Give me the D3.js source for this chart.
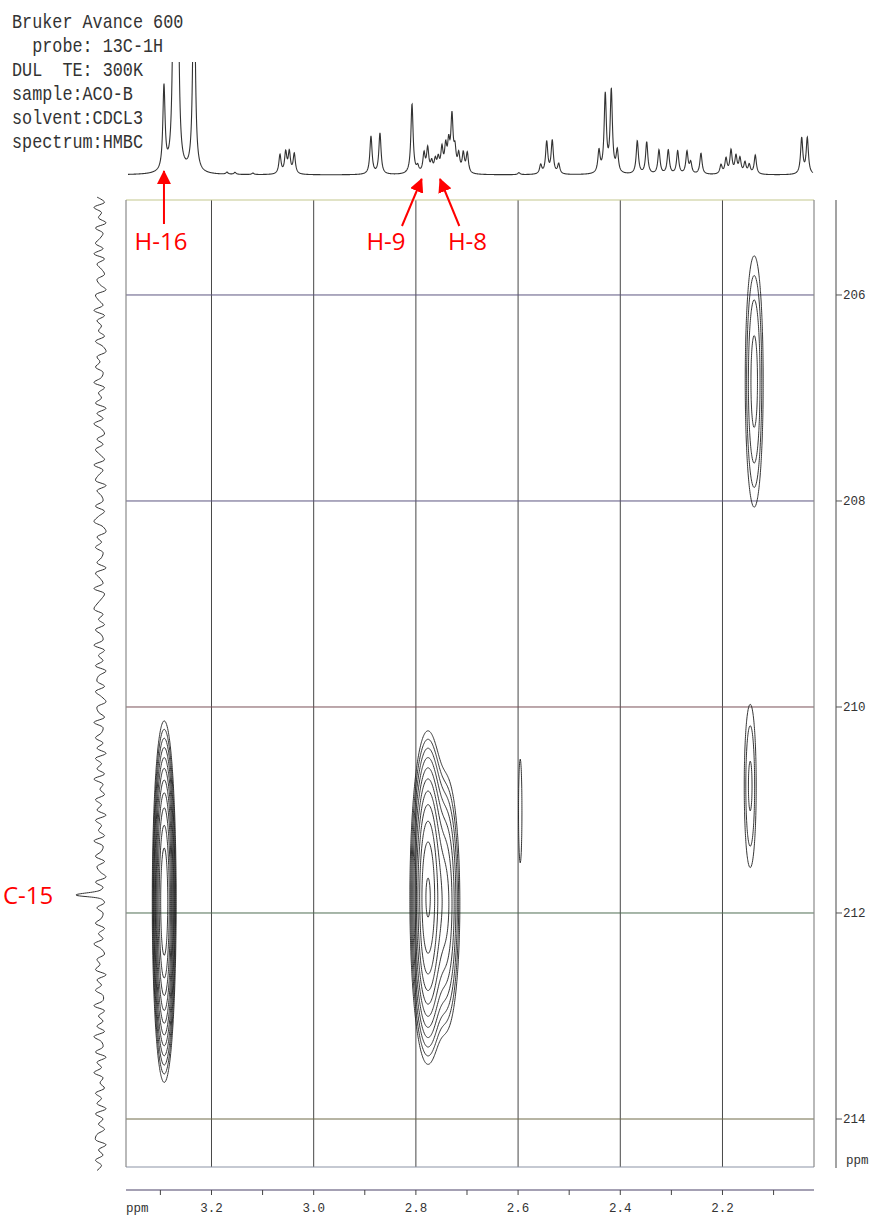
<!DOCTYPE html>
<html><head><meta charset="utf-8">
<script src="https://cdn.jsdelivr.net/npm/d3@7"></script>
<style>body{margin:0;background:#fff}svg{display:block}</style>
</head><body><svg id="c" width="877" height="1218"></svg>
<script>
// ---------------- DATA ----------------
const headerLines = ["Bruker Avance 600", "  probe: 13C-1H", "DUL  TE: 300K", "sample:ACO-B", "solvent:CDCL3", "spectrum:HMBC"];
const xMajorTicks = [3.2, 3.0, 2.8, 2.6, 2.4, 2.2];
const xMinorTicks = [3.3, 3.2, 3.1, 3.0, 2.9, 2.8, 2.7, 2.6, 2.5, 2.4, 2.3, 2.2, 2.1];
const yTicks = [206, 208, 210, 212, 214];
const axisUnit = "ppm";
// 1H projection: [ppm, height]
const protonPeaks = [
  [3.293, 84], [3.2734, 260], [3.2665, 260], [3.2342, 240], [3.1697, 2], [3.154, 2], [3.119, 1.5],
  [3.066, 19], [3.0548, 21], [3.0477, 21], [3.038, 20],
  [2.8879, 38], [2.8703, 41],
  [2.8076, 70],
  [2.7965, 6], [2.7841, 19], [2.7769, 24], [2.7691, 10], [2.762, 12], [2.7562, 13], [2.749, 23],
  [2.7417, 24], [2.7358, 26], [2.7294, 54], [2.7235, 20], [2.7162, 17], [2.7072, 19], [2.6994, 20],
  [2.5983, 2],
  [2.5558, 9], [2.544, 32], [2.5331, 33], [2.5205, 10],
  [2.4417, 22], [2.4294, 78], [2.4176, 82], [2.4059, 22],
  [2.3667, 33], [2.3483, 32], [2.3243, 24], [2.3061, 24], [2.2877, 23], [2.2695, 22], [2.2622, 11], [2.2421, 21],
  [2.2029, 9], [2.1931, 15], [2.1833, 23], [2.1736, 17], [2.1658, 15], [2.156, 11], [2.1476, 9], [2.1358, 19],
  [2.045, 36], [2.034, 36]
];
// 13C projection: noise samples (start 205.05 ppm, every 0.05 ppm) and the C-15 peak
const carbonNoiseStart = 205.05, carbonNoiseStep = 0.05;
const carbonNoise = [
  2,-3,4,-1,1,-4,3,-2,0,3,
  -2,4,-3,2,-1,-3,2,0,-4,3,
  1,-2,4,-3,2,-1,1,-3,3,-2,
  -4,2,0,3,-2,-1,4,-3,1,-1,
  3,-4,2,-2,4,-1,-3,2,-2,3,
  0,-3,4,-2,1,3,-4,2,-1,-2,
  3,-3,1,4,-2,-4,2,-1,3,-2,
  -1,2,-4,3,0,-2,4,-3,-1,2,
  4,-2,1,-3,3,-1,-2,4,-3,1,
  -2,3,-4,1,2,-3,3,-1,-4,2,
  1,-3,4,-2,-1,3,-2,2,-4,3,
  -1,2,-3,4,-2,0,-3,3,-1,2,
  -4,3,-1,1,-3,4,-2,-1,3,-3,
  2,0,-4,3,-2,1,4,-3,2,-2,
  -1,3,-3,1,-2,4,-1,-3,2,0,
  3,-4,2,-1,3,-2,-2,4,-3,1,
  -2,2,-3,4,-1,-2,3,-4,2,-1,
  4,-2,0,-3,3,-1,2,-4,3,-2,
  1,-3,2,3,-4,1,-2,3,-1,2
];
const carbonPeaks = [[211.825, 16]];
// HMBC cross peaks: 1H ppm, 13C ppm, widths (sigma), amplitude
const crossH = [3.293, 2.7770, 2.7420, 2.1384, 2.1462, 2.5963];
const crossC = [211.88, 211.84, 211.90, 206.83, 210.757, 211.0];
const crossSigmaH = [0.0086, 0.0135, 0.0135, 0.0115, 0.0096, 0.0043];
const crossSigmaC = [0.646, 0.62, 0.60, 0.80, 0.65, 0.65];
const crossAmp = [40, 30, 8, 3.2, 2.1, 1.35];
const contourLevels = [1, 1.4, 1.96, 2.74, 3.84, 5.38, 7.53, 10.5, 14.8, 20.7, 28.9, 40.5];
// annotations
const annoLabels = ["H-16", "H-9", "H-8"];
const annoLabelPpm = [3.2988, 2.8585, 2.699];
const annoTailPpm = [3.293, 2.8272, 2.715];
const annoTipPpm = [3.293, 2.7886, 2.7528];
const carbonLabel = "C-15";

// ---------------- SCALES ----------------
const svg = d3.select("#c");
const x = d3.scaleLinear().domain([3.3673, 2.0209]).range([126, 814]);
const y = d3.scaleLinear().domain([205.078, 214.466]).range([200, 1167]);
const yTop = d3.scaleLinear().domain([0, 113]).range([175, 62]);
const cx = d3.scaleLinear().domain([0, 16]).range([100, 76]);
const plotL = 126, plotR = 814, plotT = 200, plotB = 1167;

svg.append("rect").attr("width", 877).attr("height", 1218).attr("fill", "#fff");

// ---------------- HEADER TEXT ----------------
svg.append("g").selectAll("text").data(headerLines).join("text")
  .attr("transform", (d, i) => `translate(12,${28 + i * 24}) scale(1,1.15)`)
  .style("white-space", "pre")
  .attr("font-family", "Liberation Mono, DejaVu Sans Mono, monospace")
  .attr("font-size", 16.8).attr("fill", "#333")
  .text(d => d);

// ---------------- GRID ----------------
const hColors = ["#5d5580", "#5d5580", "#7a5058", "#4f6e52", "#6e6a48"];
svg.append("g").selectAll("line").data(xMajorTicks).join("line")
  .attr("x1", d => x(d)).attr("x2", d => x(d)).attr("y1", plotT).attr("y2", plotB)
  .attr("stroke", "#474747").attr("stroke-width", 1);
svg.append("g").selectAll("line").data(yTicks).join("line")
  .attr("x1", plotL).attr("x2", plotR).attr("y1", d => y(d)).attr("y2", d => y(d))
  .attr("stroke", (d, i) => hColors[i]).attr("stroke-width", 1);
const frame = svg.append("g").attr("fill", "none").attr("stroke-width", 1.2);
frame.append("line").attr("x1", plotL).attr("x2", plotR).attr("y1", plotT).attr("y2", plotT).attr("stroke", "#c3c88e");
frame.append("line").attr("x1", plotL).attr("x2", plotR).attr("y1", plotB).attr("y2", plotB).attr("stroke", "#8c94a6");
frame.append("line").attr("x1", plotL).attr("x2", plotL).attr("y1", plotT).attr("y2", plotB).attr("stroke", "#8a8a8a");
frame.append("line").attr("x1", plotR).attr("x2", plotR).attr("y1", plotT).attr("y2", plotB).attr("stroke", "#8a8a8a");

// ---------------- CONTOURS ----------------
const gx0 = 3.3673, gdx = -0.001, nx = Math.round((2.0209 - 3.3673) / gdx) + 1;
const gy0 = 205.078, gdy = 0.02, ny = Math.round((214.466 - 205.078) / gdy) + 1;
const vals = new Float64Array(nx * ny);
for (let k = 0; k < crossH.length; k++) {
  const gxs = new Float64Array(nx), gys = new Float64Array(ny);
  for (let i = 0; i < nx; i++) { const d = (gx0 + i * gdx - crossH[k]) / crossSigmaH[k]; gxs[i] = Math.exp(-0.5 * d * d); }
  for (let j = 0; j < ny; j++) { const d = (gy0 + j * gdy - crossC[k]) / crossSigmaC[k]; gys[j] = crossAmp[k] * Math.exp(-0.5 * d * d); }
  for (let j = 0; j < ny; j++) {
    const gy = gys[j]; if (gy < 1e-4) continue;
    const off = j * nx;
    for (let i = 0; i < nx; i++) { if (gxs[i] > 1e-6) vals[off + i] += gy * gxs[i]; }
  }
}
const contours = d3.contours().size([nx, ny]).thresholds(contourLevels)(vals);
const proj = d3.geoTransform({ point: function (px, py) { this.stream.point(x(gx0 + px * gdx), y(gy0 + py * gdy)); } });
const gpath = d3.geoPath(proj);
svg.append("g").selectAll("path").data(contours).join("path")
  .attr("d", gpath).attr("fill", "none").attr("stroke", "#1e1e1e").attr("stroke-width", 0.9);

// ---------------- 1H PROJECTION ----------------
svg.append("clipPath").attr("id", "topclip").append("rect").attr("x", 0).attr("y", 62).attr("width", 877).attr("height", 140);
const lw = 0.0026;
const hPts = [];
for (let p = x.invert(128); p >= x.invert(813); p -= 0.0005) {
  let s = 0;
  for (const [pp, hh] of protonPeaks) { const d = p - pp; s += hh * lw * lw / (d * d + lw * lw); }
  hPts.push([p, s]);
}
svg.append("path").datum(hPts).attr("clip-path", "url(#topclip)")
  .attr("d", d3.line().x(d => x(d[0])).y(d => yTop(d[1])))
  .attr("fill", "none").attr("stroke", "#333").attr("stroke-width", 1.1);

// ---------------- 13C PROJECTION ----------------
const cPts = [];
carbonNoise.forEach((v, i) => {
  const p = carbonNoiseStart + i * carbonNoiseStep;
  if (carbonPeaks.some(([pp]) => Math.abs(p - pp) < 0.06)) return;
  cPts.push([p, v]);
});
carbonPeaks.forEach(([pp, hh]) => { cPts.push([pp - 0.045, 0], [pp, hh], [pp + 0.04, -1]); });
cPts.sort((a, b) => a[0] - b[0]);
svg.append("path").datum(cPts)
  .attr("d", d3.line().curve(d3.curveCatmullRom.alpha(0.5)).x(d => cx(d[1])).y(d => y(d[0])))
  .attr("fill", "none").attr("stroke", "#333").attr("stroke-width", 1);

// ---------------- AXES ----------------
const axFont = "Liberation Mono, DejaVu Sans Mono, monospace";
const bx = svg.append("g");
bx.append("line").attr("x1", plotL).attr("x2", plotR).attr("y1", 1190).attr("y2", 1190).attr("stroke", "#86809a").attr("stroke-width", 1.3);
bx.selectAll("line.t").data(xMinorTicks).join("line").attr("class", "t")
  .attr("x1", d => x(d)).attr("x2", d => x(d)).attr("y1", 1190).attr("y2", 1195).attr("stroke", "#444");
bx.selectAll("text.l").data(xMajorTicks).join("text").attr("class", "l")
  .attr("x", d => x(d)).attr("y", 1212).attr("text-anchor", "middle")
  .attr("font-family", axFont).attr("font-size", 12.5).attr("fill", "#333")
  .text(d => d.toFixed(1));
bx.append("text").attr("x", 126).attr("y", 1212).attr("font-family", axFont).attr("font-size", 12.5).attr("fill", "#333").text(axisUnit);
const rx = svg.append("g");
rx.append("line").attr("x1", 836).attr("x2", 836).attr("y1", plotT).attr("y2", 1168).attr("stroke", "#666").attr("stroke-width", 1.2);
rx.selectAll("line.t").data(yTicks).join("line").attr("class", "t")
  .attr("x1", 836).attr("x2", 842).attr("y1", d => y(d)).attr("y2", d => y(d)).attr("stroke", "#555");
rx.selectAll("text.l").data(yTicks).join("text").attr("class", "l")
  .attr("x", 843).attr("y", d => y(d)).attr("dy", "0.35em")
  .attr("font-family", axFont).attr("font-size", 12.5).attr("fill", "#333")
  .text(d => d);
rx.append("text").attr("x", 846).attr("y", 1160).attr("dy", "0.35em").attr("font-family", axFont).attr("font-size", 12.5).attr("fill", "#333").text(axisUnit);

// ---------------- ANNOTATIONS ----------------
const defs = svg.append("defs");
defs.append("marker").attr("id", "ah").attr("markerUnits", "userSpaceOnUse")
  .attr("markerWidth", 14).attr("markerHeight", 14).attr("refX", 13).attr("refY", 7).attr("orient", "auto")
  .append("path").attr("d", "M0,0 L14,7 L0,14 Z").attr("fill", "#f00");
const an = svg.append("g");
an.selectAll("line").data(annoLabels).join("line")
  .attr("x1", (d, i) => x(annoTailPpm[i])).attr("y1", (d, i) => i === 0 ? 224 : 226)
  .attr("x2", (d, i) => x(annoTipPpm[i])).attr("y2", (d, i) => i === 0 ? 171 : 179)
  .attr("stroke", "#f00").attr("stroke-width", 2).attr("marker-end", "url(#ah)");
an.selectAll("text").data(annoLabels).join("text")
  .attr("x", (d, i) => x(annoLabelPpm[i])).attr("y", 250).attr("text-anchor", "middle")
  .attr("font-family", "Open Sans, sans-serif").attr("font-size", 24).attr("fill", "#f00")
  .text(d => d);
svg.append("text").attr("x", 3).attr("y", y(carbonPeaks[0][0]) + 9)
  .attr("font-family", "Open Sans, sans-serif").attr("font-size", 24).attr("fill", "#f00").text(carbonLabel);
</script></body></html>
